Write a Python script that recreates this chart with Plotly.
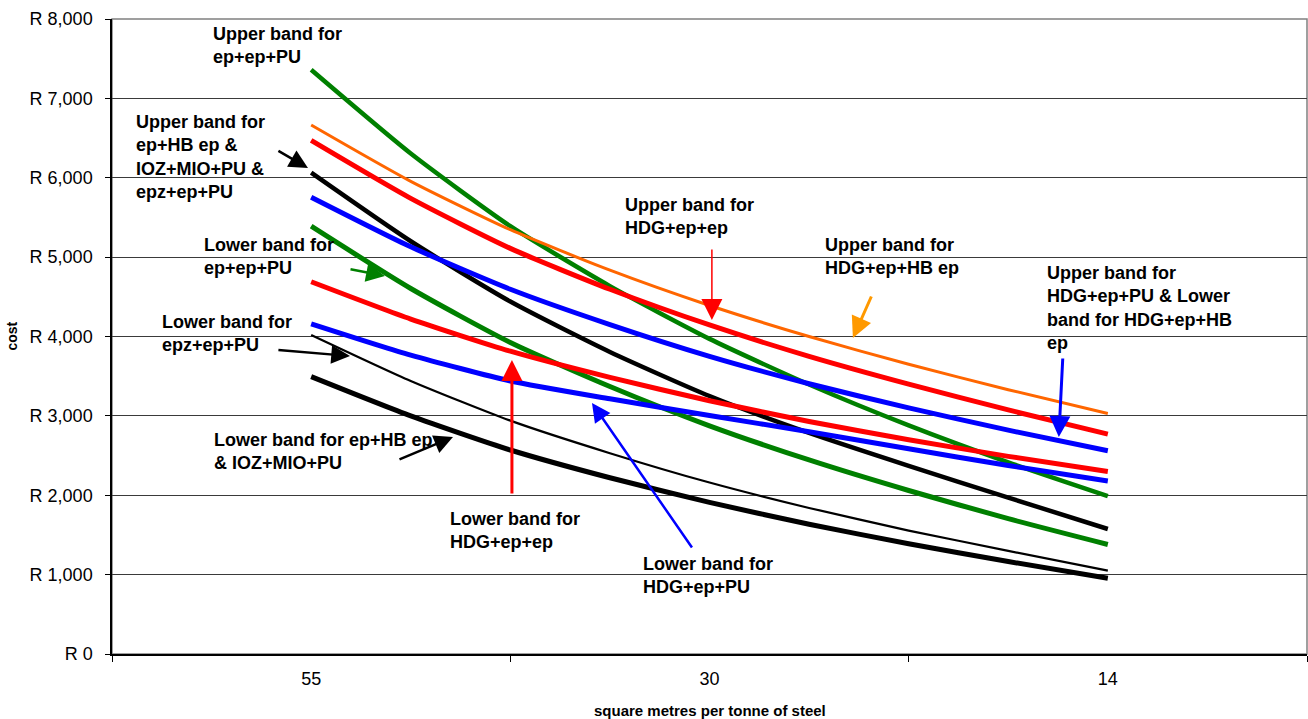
import plotly.graph_objects as go

# Category axis: square metres per tonne of steel
area_labels = ["55", "30", "14"]
# Sample positions along the category scale (0 = 55, 1 = 30, 2 = 14)
sample_pos = [0.0, 0.25, 0.5, 0.75, 1.0, 1.25, 1.5, 1.75, 2.0]

# Cost curves (Rand per tonne)
upper_ep_ep_pu = [7360, 6305, 5390, 4635, 3970, 3395, 2880, 2415, 1990]
upper_hdg_ep_hb = [6665, 5955, 5345, 4835, 4390, 4000, 3650, 3330, 3030]
upper_hdg_ep_ep = [6470, 5740, 5110, 4595, 4145, 3750, 3400, 3075, 2770]
upper_ep_hb_ioz_epz = [6064, 5200, 4440, 3805, 3250, 2785, 2370, 1970, 1575]
upper_hdg_ep_pu = [5755, 5130, 4595, 4150, 3750, 3405, 3100, 2820, 2560]
lower_ep_ep_pu = [5390, 4605, 3925, 3370, 2875, 2445, 2060, 1705, 1380]
lower_hdg_ep_ep = [4690, 4220, 3815, 3485, 3190, 2930, 2700, 2490, 2300]
lower_hdg_ep_pu = [4160, 3765, 3440, 3215, 3005, 2800, 2585, 2375, 2180]
lower_epz_ep_pu = [4020, 3440, 2940, 2530, 2160, 1840, 1555, 1300, 1050]
lower_ep_hb_ioz = [3495, 3000, 2570, 2220, 1910, 1635, 1390, 1165, 955]

y_ticks = [0, 1000, 2000, 3000, 4000, 5000, 6000, 7000, 8000]

FONT = "Liberation Sans, Arial, sans-serif"

series = [
    ("Upper ep+ep+PU", upper_ep_ep_pu, "#008000", 4.5),
    ("Upper HDG+ep+HB ep", upper_hdg_ep_hb, "#FF6600", 3),
    ("Upper HDG+ep+ep", upper_hdg_ep_ep, "#FF0000", 5),
    ("Upper ep+HB ep / IOZ+MIO+PU / epz+ep+PU", upper_ep_hb_ioz_epz, "#000000", 4.5),
    ("Upper HDG+ep+PU", upper_hdg_ep_pu, "#0000FF", 5),
    ("Lower ep+ep+PU", lower_ep_ep_pu, "#008000", 5),
    ("Lower HDG+ep+ep", lower_hdg_ep_ep, "#FF0000", 5),
    ("Lower HDG+ep+PU", lower_hdg_ep_pu, "#0000FF", 5),
    ("Lower epz+ep+PU", lower_epz_ep_pu, "#000000", 2.2),
    ("Lower ep+HB ep / IOZ+MIO+PU", lower_ep_hb_ioz, "#000000", 5),
]

fig = go.Figure()
for name, vals, color, w in series:
    fig.add_trace(go.Scatter(
        x=sample_pos, y=vals, mode="lines", name=name,
        line=dict(color=color, width=w, shape="spline", smoothing=0.6),
        showlegend=False,
    ))

# Plot-area frame (top/right edges are grey)
fig.add_shape(type="rect", xref="paper", yref="paper", x0=0, y0=0, x1=1, y1=1,
              line=dict(color="#808080", width=1.5), layer="below")

label_font = dict(family=FONT, size=18, color="#000000")
labels = [
    ("<b>Upper band for<br>ep+ep+PU</b>", -0.2515, 7672),
    ("<b>Upper band for<br>ep+HB ep &<br>IOZ+MIO+PU &<br>epz+ep+PU</b>", -0.445, 6261),
    ("<b>Lower band for<br>ep+ep+PU</b>", -0.274, 5014),
    ("<b>Lower band for<br>epz+ep+PU</b>", -0.38, 4044),
    ("<b>Lower band for ep+HB ep<br>& IOZ+MIO+PU</b>", -0.249, 2545),
    ("<b>Lower band for<br>HDG+ep+ep</b>", 0.3435, 1550),
    ("<b>Lower band for<br>HDG+ep+PU</b>", 0.828, 995),
    ("<b>Upper band for<br>HDG+ep+ep</b>", 0.783, 5518),
    ("<b>Upper band for<br>HDG+ep+HB ep</b>", 1.285, 5014),
    ("<b>Upper band for<br>HDG+ep+PU & Lower<br>band for HDG+ep+HB<br>ep</b>", 1.842, 4365),
]
for text, x, y in labels:
    fig.add_annotation(text=text, x=x, y=y, xref="x", yref="y",
                       xanchor="left", yanchor="middle", align="left",
                       showarrow=False, font=label_font)

# Pointer arrows: (tail x, tail y, head x, head y, colour, width, head size)
arrows = [
    (-0.086, 6349, -0.008, 6123, "#000000", 2.5, 1.5),
    (0.095, 4850, 0.185, 4762, "#008000", 2.5, 1.5),
    (-0.086, 3830, 0.0975, 3754, "#000000", 2.5, 1.5),
    (0.218, 2444, 0.356, 2734, "#000000", 2.5, 1.5),
    (0.504, 2003, 0.504, 3704, "#FF0000", 3, 1.4),
    (0.9586, 1323, 0.705, 3162, "#0000FF", 2.5, 1.5),
    (1.006, 5115, 1.006, 4208, "#FF0000", 1.5, 2.8),
    (1.408, 4523, 1.360, 3981, "#FF9900", 3, 1.4),
    (1.887, 3742, 1.877, 2734, "#0000FF", 3, 1.4),
]
for ax, ay, x, y, color, w, hs in arrows:
    fig.add_annotation(text="", x=x, y=y, ax=ax, ay=ay,
                       xref="x", yref="y", axref="x", ayref="y",
                       showarrow=True, arrowhead=2, arrowsize=hs,
                       arrowwidth=w, arrowcolor=color, standoff=0)

# Axis titles
fig.add_annotation(text="<b>cost</b>", xref="paper", yref="paper", x=-0.0845, y=0.5,
                   textangle=-90, showarrow=False, xanchor="center", yanchor="middle",
                   font=dict(family=FONT, size=14, color="#000000"))
fig.add_annotation(text="<b>square metres per tonne of steel</b>", xref="paper", yref="paper",
                   x=0.5, y=0, yshift=-56, showarrow=False, xanchor="center", yanchor="middle",
                   font=dict(family=FONT, size=15, color="#000000"))

fig.update_layout(
    width=1308, height=719,
    margin=dict(l=112, r=1, t=19, b=65),
    paper_bgcolor="white", plot_bgcolor="white",
    font=dict(family=FONT, size=18, color="#000000"),
    xaxis=dict(
        range=[-0.5, 2.5], tickvals=[0, 1, 2], ticktext=area_labels,
        ticks="", showgrid=False, zeroline=False,
        showline=True, linecolor="#000000", linewidth=1.5,
        tickfont=dict(family=FONT, size=18), ticklabelstandoff=8,
        minor=dict(tickvals=[-0.5, 0.5, 1.5, 2.5], ticks="outside", ticklen=6,
                   tickcolor="#000000", tickwidth=1, showgrid=False),
    ),
    yaxis=dict(
        range=[0, 8000], tickvals=y_ticks,
        ticktext=["R " + f"{v:,}" for v in y_ticks],
        ticks="outside", ticklen=5, tickcolor="#000000", tickwidth=1,
        showgrid=True, gridcolor="#3a3a3a", gridwidth=1, zeroline=False,
        showline=True, linecolor="#000000", linewidth=1.5,
        tickfont=dict(family=FONT, size=18), ticklabelstandoff=9,
    ),
)

fig.write_html("out.html")
